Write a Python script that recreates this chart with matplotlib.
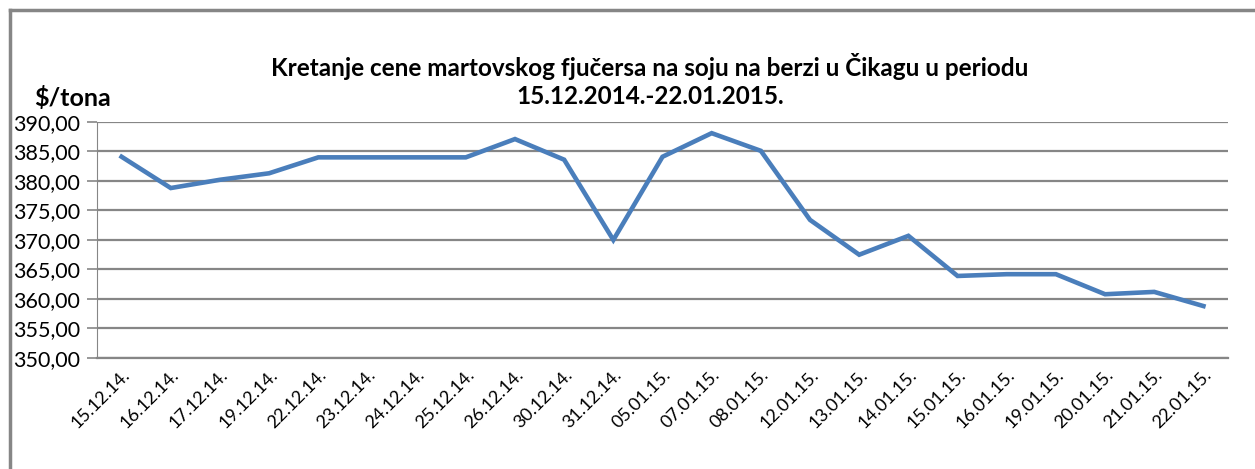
import matplotlib.pyplot as plt
from matplotlib.lines import Line2D

dates = ['15.12.14.', '16.12.14.', '17.12.14.', '19.12.14.', '22.12.14.', '23.12.14.',
         '24.12.14.', '25.12.14.', '26.12.14.', '30.12.14.', '31.12.14.', '05.01.15.',
         '07.01.15.', '08.01.15.', '12.01.15.', '13.01.15.', '14.01.15.', '15.01.15.',
         '16.01.15.', '19.01.15.', '20.01.15.', '21.01.15.', '22.01.15.']
prices = [384.1, 378.8, 380.2, 381.3, 384.0, 384.0, 384.0, 384.0, 387.1, 383.6,
          370.0, 384.1, 388.1, 385.1, 373.4, 367.5, 370.7, 363.9, 364.2, 364.2,
          360.8, 361.2, 358.8]
yticks = [350, 355, 360, 365, 370, 375, 380, 385, 390]

plt.rcParams['font.family'] = ['Lato', 'DejaVu Sans']

fig = plt.figure(figsize=(12.55, 4.69), dpi=100)
ax = fig.add_axes([0.0773, 0.2367, 0.9785 - 0.0773, 0.740 - 0.2367])

x = list(range(len(dates)))
ax.plot(x, prices, color='#4a7ebb', lw=3.3, solid_joinstyle='miter')

ax.set_xlim(-0.5, len(dates) - 0.5)
ax.set_ylim(350, 390)
ax.set_yticks(yticks)
ax.set_yticklabels([f'{v:.2f}'.replace('.', ',') for v in yticks], fontsize=15.5)
ax.yaxis.grid(True, color='#868686', lw=1.6)
ax.set_axisbelow(True)

ax.set_xticks(x)
ax.set_xticklabels(dates, rotation=45, ha='right', rotation_mode='anchor', fontsize=13)
ax.tick_params(axis='x', length=0, pad=6)
ax.tick_params(axis='y', length=7, color='#868686', width=1.2, pad=5)

for side in ['top', 'right']:
    ax.spines[side].set_visible(False)
ax.spines['left'].set_color('#868686')
ax.spines['bottom'].set_color('#868686')
ax.spines['bottom'].set_linewidth(1.6)

fig.text(0.518, 0.829, 'Kretanje cene martovskog fjučersa na soju na berzi u Čikagu u periodu\n15.12.2014.-22.01.2015.',
         ha='center', va='center', fontsize=17.5, fontweight='bold', linespacing=1.25)
fig.text(0.058, 0.791, '\\$/tona', ha='center', va='center', fontsize=18, fontweight='bold')

# outer chart frame (left and top edges visible in the crop)
fig.add_artist(Line2D([0.008, 0.008], [0.0, 0.979], transform=fig.transFigure, color='#868686', lw=2.5))
fig.add_artist(Line2D([0.008, 1.0], [0.979, 0.979], transform=fig.transFigure, color='#868686', lw=2.5))

fig.savefig('out.png')
